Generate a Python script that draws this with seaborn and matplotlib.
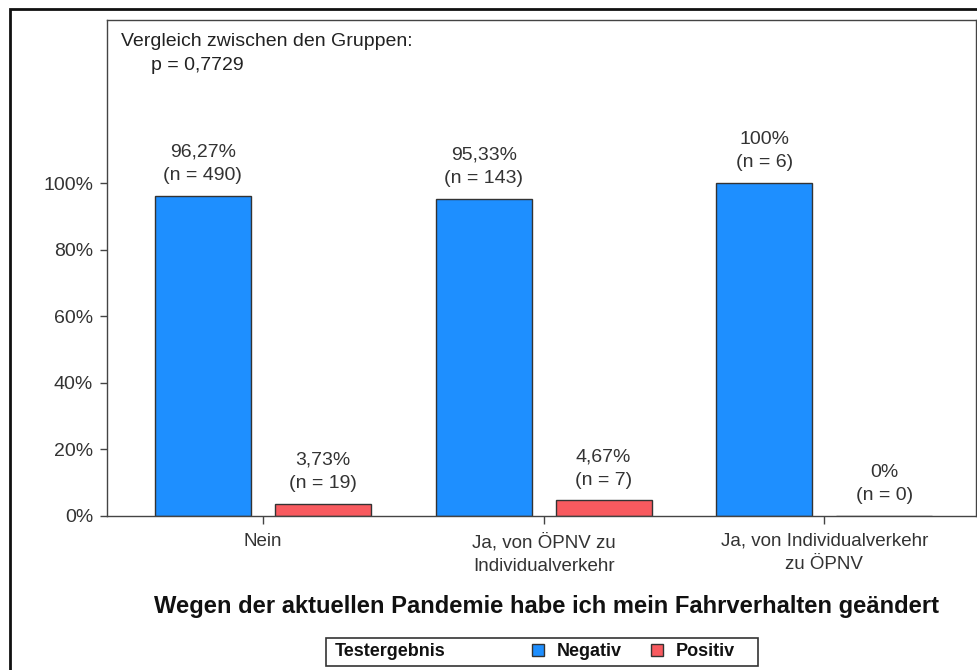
import matplotlib
matplotlib.use("Agg")
import matplotlib.pyplot as plt
import seaborn as sns
import pandas as pd
from matplotlib.patches import Rectangle
from matplotlib.ticker import FuncFormatter

categories = ["Nein", "Ja, von ÖPNV zu\nIndividualverkehr", "Ja, von Individualverkehr\nzu ÖPNV"]
groups = ["Negativ", "Positiv"]
negativ_pct = [96.27, 95.33, 100.0]
positiv_pct = [3.73, 4.67, 0.0]
negativ_n = [490, 143, 6]
positiv_n = [19, 7, 0]
negativ_lbl = ["96,27%", "95,33%", "100%"]
positiv_lbl = ["3,73%", "4,67%", "0%"]
yticks = [0, 20, 40, 60, 80, 100]

sns.set_theme(style="white")
plt.rcParams["font.family"] = ["Liberation Sans", "DejaVu Sans"]

df = pd.DataFrame({
    "Kategorie": categories * 2,
    "Testergebnis": [groups[0]] * 3 + [groups[1]] * 3,
    "Prozent": negativ_pct + positiv_pct,
})

W, H = 978, 670
fig = plt.figure(figsize=(W / 100, H / 100), dpi=100)
ax = fig.add_axes([107 / W, 1 - 516 / H, (976 - 107) / W, (516 - 20) / H])

palette = {"Negativ": "#1E8FFF", "Positiv": "#F85A5F"}
sns.barplot(data=df, x="Kategorie", y="Prozent", hue="Testergebnis",
            hue_order=groups, order=categories, palette=palette,
            width=0.854, gap=0.2, edgecolor="#333333", linewidth=1.0,
            saturation=1, legend=True, ax=ax)

ax.set_xlim(-0.555, 2.54)
ax.set_ylim(0, 149)
ax.set_yticks(yticks)
ax.yaxis.set_major_formatter(FuncFormatter(lambda v, p: f"{int(v)}%"))

for sp in ax.spines.values():
    sp.set_color("#444444")
    sp.set_linewidth(1.0)

ax.tick_params(axis="y", which="both", left=True, length=5, width=1, color="#444444",
               labelsize=14, labelcolor="#333333", pad=5)
ax.tick_params(axis="x", which="both", bottom=True, length=5.5, width=1, color="#444444",
               labelsize=13.5, labelcolor="#333333", pad=6.5)
for t in ax.get_xticklabels():
    t.set_linespacing(1.5)
ax.set_ylabel("")
ax.set_xlabel("Wegen der aktuellen Pandemie habe ich mein Fahrverhalten geändert",
              fontsize=17.1, fontweight="bold", color="#111111")
ax.xaxis.set_label_coords((547 - 107) / (976 - 107), -(606 - 516) / (516 - 20))
ax.xaxis.label.set_va("center")

labels_all = [
    [f"{p}\n(n = {n})" for p, n in zip(negativ_lbl, negativ_n)],
    [f"{p}\n(n = {n})" for p, n in zip(positiv_lbl, positiv_n)],
]
for cont, labs in zip(ax.containers, labels_all):
    texts = ax.bar_label(cont, labels=labs, padding=8.5, fontsize=14, color="#333333",
                         linespacing=1.5)
    for t in texts:
        t.set_multialignment("center")

ax.text(121 / W, 1 - 41 / H, "Vergleich zwischen den Gruppen:", transform=fig.transFigure,
        fontsize=14, color="#222222", va="center", ha="left")
ax.text(151 / W, 1 - 66 / H, "p = 0,7729", transform=fig.transFigure,
        fontsize=14, color="#222222", va="center", ha="left")

# legend
handles, labs = ax.get_legend_handles_labels()
ax.legend_.remove()
leg = fig.legend(handles, labs, loc="center left", bbox_to_anchor=(532 / W, 1 - 652 / H),
                 ncol=2, frameon=False, fontsize=13, handlelength=0.67, handleheight=0.67,
                 handletextpad=0.72, columnspacing=1.6, borderaxespad=0, borderpad=0)
for t in leg.get_texts():
    t.set_fontweight("bold")
    t.set_color("#111111")
fig.patches.append(Rectangle((326 / W, 1 - 666 / H), (758 - 326) / W, 28 / H,
                             transform=fig.transFigure, fill=False,
                             edgecolor="#333333", linewidth=1.2))
fig.text(335 / W, 1 - 652 / H, "Testergebnis", fontsize=13, fontweight="bold",
         color="#111111", va="center", ha="left")

# outer frame
fig.patches.append(Rectangle((10 / W, -0.05), 1.2, 1 - 9 / H + 0.05,
                             transform=fig.transFigure, fill=False,
                             edgecolor="#111111", linewidth=2))

fig.savefig("out.png", dpi=100)
